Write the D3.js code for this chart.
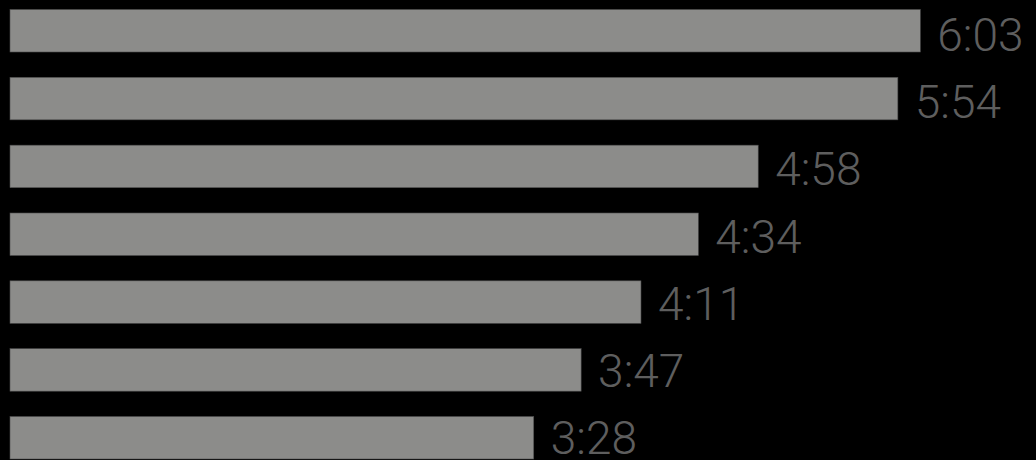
<!DOCTYPE html>
<html>
<head>
<meta charset="utf-8">
<script src="https://cdn.jsdelivr.net/npm/d3@7"></script>
<style>
  html, body { margin: 0; padding: 0; background: #000; }
  svg { display: block; }
</style>
</head>
<body>
<svg id="chart" width="1036" height="460"></svg>
<script>
const categories = ["a", "b", "c", "d", "e", "f", "g"];
const seconds = [363, 354, 298, 274, 251, 227, 208];
const labels = ["6:03", "5:54", "4:58", "4:34", "4:11", "3:47", "3:28"];

const svg = d3.select("#chart");
svg.append("rect").attr("width", 1036).attr("height", 460).attr("fill", "#000");

const x = d3.scaleLinear().domain([-2, 363]).range([10, 920.3]);
const y = d3.scaleBand().domain(categories).range([9.5, 459]).paddingInner(0.3735).paddingOuter(0);
const labelY = d3.scalePoint().domain(categories).range([34.5, 437.8]);

const data = categories.map((c, i) => ({ c, v: seconds[i], t: labels[i] }));

svg.selectAll("rect.bar")
  .data(data)
  .join("rect")
  .attr("class", "bar")
  .attr("x", x(-2))
  .attr("y", d => y(d.c))
  .attr("width", d => x(d.v) - x(-2))
  .attr("height", y.bandwidth())
  .attr("fill", "#8c8c8a")
  .attr("stroke", "#4d4d4d")
  .attr("stroke-width", 0.6);

svg.selectAll("text.lbl")
  .data(data)
  .join("text")
  .attr("class", "lbl")
  .attr("x", d => x(d.v) + 17)
  .attr("y", d => labelY(d.c) + 16.5)
  .attr("fill", "#5e5e5e")
  .attr("font-family", "Roboto, 'Open Sans', sans-serif")
  .attr("font-weight", 300)
  .attr("font-size", 46)
  .text(d => d.t);
</script>
</body>
</html>
